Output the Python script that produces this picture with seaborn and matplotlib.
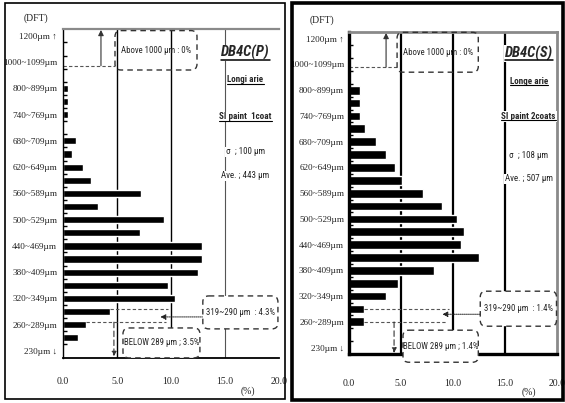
import matplotlib
matplotlib.use("Agg")
import matplotlib.pyplot as plt
from matplotlib import font_manager as fm
from matplotlib.patches import FancyBboxPatch, Rectangle
from matplotlib.lines import Line2D
import seaborn as sns
import pandas as pd

# ---------------- data ----------------
# DFT bins, bottom -> top (25 bins)
bins = ["230↓", "230~259", "260~289", "290~319", "320~349", "350~379", "380~409",
        "410~439", "440~469", "470~499", "500~529", "530~559", "560~589", "590~619",
        "620~649", "650~679", "680~709", "710~739", "740~769", "770~799", "800~899",
        "900~999", "1000~1099", "1100~1199", "1200↑"]
# labels shown at every other bin (bottom -> top)
tick_labels = ["230µm ↓", "260~289µm", "320~349µm", "380~409µm", "440~469µm",
               "500~529µm", "560~589µm", "620~649µm", "680~709µm", "740~769µm",
               "800~899µm", "1000~1099µm", "1200µm ↑"]
# percentage of readings per bin (bottom -> top)
pct_p = [0, 1.4, 2.1, 4.3, 10.4, 9.7, 12.5, 12.9, 12.9, 7.1, 9.3, 3.2, 7.2, 2.55,
         1.85, 0.8, 1.15, 0, 0.4, 0.4, 0.4, 0, 0, 0, 0]
pct_s = [0, 0, 1.4, 1.4, 3.6, 4.7, 8.2, 12.5, 10.8, 11.1, 10.4, 9.0, 7.1, 5.1,
         4.4, 3.6, 2.6, 1.5, 1.1, 1.1, 1.1, 0, 0, 0, 0]
x_ticks = [0, 5, 10, 15, 20]
x_tick_labels = ["0.0", "5.0", "10.0", "15.0", "20.0"]
grid_x = [5, 10, 15]

titles = ["DB4C(P)", "DB4C(S)"]
areas = ["Longi arie", "Longe arie"]
paints = ["SI paint  1coat", "SI paint 2coats"]
sigmas = ["σ  ; 100 µm", "σ  ; 108 µm"]
aves = ["Ave. ; 443 µm", "Ave. ; 507 µm"]
above_txt = ["Above 1000 µm : 0%", "Above 1000 µm : 0%"]
mid_txt = ["319~290 µm  : 4.3%", "319~290 µm  : 1.4%"]
below_txt = ["BELOW 289 µm ; 3.5%", "BELOW 289 µm ; 1.4%"]

# ---------------- fonts ----------------
sns.set_style("white")
names = {f.name for f in fm.fontManager.ttflist}


def pick(cands, default):
    for c in cands:
        if c in names:
            return c
    return default


NARROW = pick(["Liberation Sans Narrow", "Roboto Condensed", "Open Sans Condensed",
               "Liberation Sans"], "DejaVu Sans")
SERIF = pick(["Liberation Serif", "DejaVu Serif"], "DejaVu Serif")
NARROW_F = [NARROW, "DejaVu Sans"]
SERIF_F = [SERIF, "DejaVu Serif", "DejaVu Sans"]
plt.rcParams["font.family"] = NARROW_F

W, H = 565, 403
fig = plt.figure(figsize=(W / 100, H / 100), dpi=100)
fig.patch.set_facecolor("white")

# axes placement in pixels: (left, top, right, bottom)
ax_px = [(63.2, 29.3, 279.0, 357.5), (349.0, 32.3, 556.7, 354.0)]

layout = [
    dict(bw=0.55, grid_lw=[1.0, 1.0, 0.8], grid_c=["black", "black", "#555555"],
         lspine=1.0, bspine=1.3, tspine=1.6, rspine=0.0, xpad=14, ypad=4.3,
         above_box=(4.8, 12.4, 21.4, 24.4), above_k=21.73, up_x=3.5,
         mid_box=(12.94, 19.9, 1.68, 4.19),
         below_box=(5.54, 12.67, -0.53, 1.75),
         lineA=(3.2, 4.3, 9.7), lineB=(2.19, 2.1, 9.5),
         arrow_left=(2.59, 12.94, 9.0), down_x=4.7,
         side_x=16.9, side_k=[22.7, 20.64, 17.82, 15.16, 13.33],
         dft=(36, 18), pct=(248, 391)),
    dict(bw=0.68, grid_lw=[1.6, 1.6, 1.6], grid_c=["black", "black", "black"],
         lspine=2.4, bspine=2.4, tspine=2.0, rspine=2.0, xpad=18, ypad=3.6,
         above_box=(4.63, 12.45, 21.4, 24.5), above_k=21.8, up_x=3.57,
         mid_box=(12.64, 19.98, 1.66, 4.38),
         below_box=(5.2, 12.45, -1.14, 1.35),
         lineA=(3.03, 1.4, 9.65), lineB=(1.99, 1.4, 9.4),
         arrow_left=(2.59, 12.64, 8.98), down_x=4.34,
         side_x=17.3, side_k=[22.87, 20.7, 17.98, 14.96, 13.1],
         dft=(322, 20), pct=(529, 392)),
]

order = bins[::-1]  # top -> bottom for the categorical axis


def P(k):
    """category position of bin index k (0 = bottom bin)"""
    return len(bins) - 1 - k


underlined = []

for i, (pct, L) in enumerate(zip([pct_p, pct_s], layout)):
    l, t, r, b = ax_px[i]
    ax = fig.add_axes([l / W, (H - b) / H, (r - l) / W, (b - t) / H])
    df = pd.DataFrame({"bin": bins, "pct": pct})
    sns.barplot(data=df, x="pct", y="bin", order=order, orient="h", color="black",
                saturation=1, width=L["bw"], ax=ax, zorder=2)
    ax.set_xlim(0, 20)
    ax.set_ylim(len(bins) - 0.5, -0.5)
    ax.set_xlabel("")
    ax.set_ylabel("")
    ax.set_facecolor("white")

    # spines
    ax.spines["left"].set_linewidth(L["lspine"])
    ax.spines["left"].set_color("black")
    ax.spines["bottom"].set_linewidth(L["bspine"])
    ax.spines["bottom"].set_color("black")
    ax.spines["top"].set_linewidth(L["tspine"])
    ax.spines["top"].set_color("#8a8a8a")
    if L["rspine"] > 0:
        ax.spines["right"].set_linewidth(L["rspine"])
        ax.spines["right"].set_color("#8a8a8a")
    else:
        ax.spines["right"].set_visible(False)
    for s in ax.spines.values():
        s.set_zorder(5)

    # gridlines
    for gx, lw, c in zip(grid_x, L["grid_lw"], L["grid_c"]):
        ax.axvline(gx, color=c, lw=lw, zorder=1)

    # ticks
    ax.set_xticks(x_ticks)
    ax.set_xticklabels(x_tick_labels)
    ax.set_yticks([P(k) for k in range(0, len(bins), 2)])
    ax.set_yticklabels(tick_labels)
    ax.set_yticks([p + 0.5 for p in range(len(bins) - 1)], minor=True)
    ax.tick_params(axis="x", which="both", length=0, pad=L["xpad"])
    ax.tick_params(axis="y", which="major", length=0, pad=L["ypad"])
    ax.tick_params(axis="y", which="minor", left=True, direction="in", length=3,
                   width=1.0, color="black")
    for lab in ax.get_xticklabels():
        lab.set_fontfamily(SERIF_F)
        lab.set_fontsize(7)
        lab.set_color("#222222")
    for lab in ax.get_yticklabels():
        lab.set_fontfamily(SERIF_F)
        lab.set_fontsize(6.6)
        lab.set_color("#222222")

    # ---- annotations ----
    aspect = ((r - l) / 20) / ((b - t) / len(bins))

    def box(x0, x1, k0, k1, fill):
        p = FancyBboxPatch((x0, P(k1)), x1 - x0, k1 - k0,
                           boxstyle="round,pad=0,rounding_size=0.55",
                           mutation_aspect=aspect, fc="white" if fill else "none",
                           ec="#333333", lw=1.0, ls=(0, (4, 3)), zorder=6,
                           clip_on=False)
        ax.add_patch(p)
        return ((x0 + x1) / 2, P((k0 + k1) / 2))

    cx, cy = box(*L["above_box"], fill=False)
    ax.text(cx, cy, above_txt[i], ha="center", va="center", fontsize=6.3,
            family=NARROW_F, zorder=7)
    cx, cy = box(*L["mid_box"], fill=True)
    ax.text(cx, cy, mid_txt[i], ha="center", va="center", fontsize=6.3,
            family=NARROW_F, zorder=7)
    cx, cy = box(*L["below_box"], fill=True)
    ax.text(cx, cy, below_txt[i], ha="center", va="center", fontsize=6.3,
            family=NARROW_F, zorder=7, clip_on=False)

    # dashed guide at 1000 µm and up arrow
    ak = L["above_k"]
    ax.plot([0, L["above_box"][0]], [P(ak), P(ak)], color="#555555", lw=0.8,
            ls=(0, (3, 2)), zorder=4)
    ax.annotate("", xy=(L["up_x"], P(24.45)), xytext=(L["up_x"], P(ak)),
                arrowprops=dict(arrowstyle="-|>", color="#333333", lw=0.8,
                                mutation_scale=8, shrinkA=0, shrinkB=0), zorder=4)
    # dashed guides near 290-319
    k, x0, x1 = L["lineA"]
    ax.plot([x0, x1], [P(k), P(k)], color="#555555", lw=0.8, ls=(0, (3, 2)), zorder=4)
    k, x0, x1 = L["lineB"]
    ax.plot([x0, x1], [P(k), P(k)], color="#555555", lw=0.8, ls=(0, (3, 2)), zorder=4)
    # dotted arrow from the 319~290 box
    k, x0, x1 = L["arrow_left"]
    ax.annotate("", xy=(x1, P(k)), xytext=(x0, P(k)),
                arrowprops=dict(arrowstyle="-|>", color="#222222", lw=0.7,
                                ls=(0, (1, 1)), mutation_scale=8, shrinkA=0,
                                shrinkB=0), zorder=4)
    # vertical dashed down arrow
    kb = L["lineB"][0]
    ax.annotate("", xy=(L["down_x"], P(-0.42)), xytext=(L["down_x"], P(kb)),
                arrowprops=dict(arrowstyle="-|>", color="#333333", lw=0.8,
                                ls=(0, (5, 3)), mutation_scale=7, shrinkA=0,
                                shrinkB=0), zorder=4)

    # side description texts
    sx = L["side_x"]
    sk = L["side_k"]
    bb = dict(facecolor="white", edgecolor="none", pad=0.6)
    t1 = ax.text(sx, P(sk[0]), titles[i], ha="center", va="center", fontsize=10.5,
                 fontweight="bold", fontstyle="italic", family=NARROW_F, zorder=7,
                 bbox=bb)
    t2 = ax.text(sx, P(sk[1]), areas[i], ha="center", va="center", fontsize=6.5,
                 fontweight="bold", family=NARROW_F, zorder=7, bbox=bb)
    t3 = ax.text(sx, P(sk[2]), paints[i], ha="center", va="center", fontsize=6.5,
                 fontweight="bold", family=NARROW_F, zorder=7, bbox=bb)
    ax.text(sx, P(sk[3]), sigmas[i], ha="center", va="center", fontsize=6.5,
            family=NARROW_F, zorder=7, bbox=bb)
    ax.text(sx, P(sk[4]), aves[i], ha="center", va="center", fontsize=6.5,
            family=NARROW_F, zorder=7, bbox=bb)
    underlined += [(t1, 1.1), (t2, 0.8), (t3, 0.8)]

    # unit captions
    fig.text(L["dft"][0] / W, 1 - L["dft"][1] / H, "(DFT)", ha="center", va="center",
             fontsize=7, family=SERIF_F, color="#222222")
    fig.text(L["pct"][0] / W, 1 - L["pct"][1] / H, "(%)", ha="center", va="center",
             fontsize=7, family=SERIF_F, color="#222222")

# panel frames
fig.add_artist(Rectangle((5 / W, (H - 399) / H), 280 / W, 396 / H,
                         transform=fig.transFigure, fill=False, ec="black", lw=1.2))
fig.add_artist(Rectangle((292 / W, (H - 400) / H), 271 / W, 397 / H,
                         transform=fig.transFigure, fill=False, ec="black", lw=2.6))

# underlines
fig.canvas.draw()
rend = fig.canvas.get_renderer()
for t, lw in underlined:
    e = t.get_window_extent(rend)
    y = (e.y0 + 0.5) / H
    fig.add_artist(Line2D([e.x0 / W, e.x1 / W], [y, y], transform=fig.transFigure,
                          color="black", lw=lw, zorder=10))

fig.savefig("out.png", dpi=100, facecolor="white")
